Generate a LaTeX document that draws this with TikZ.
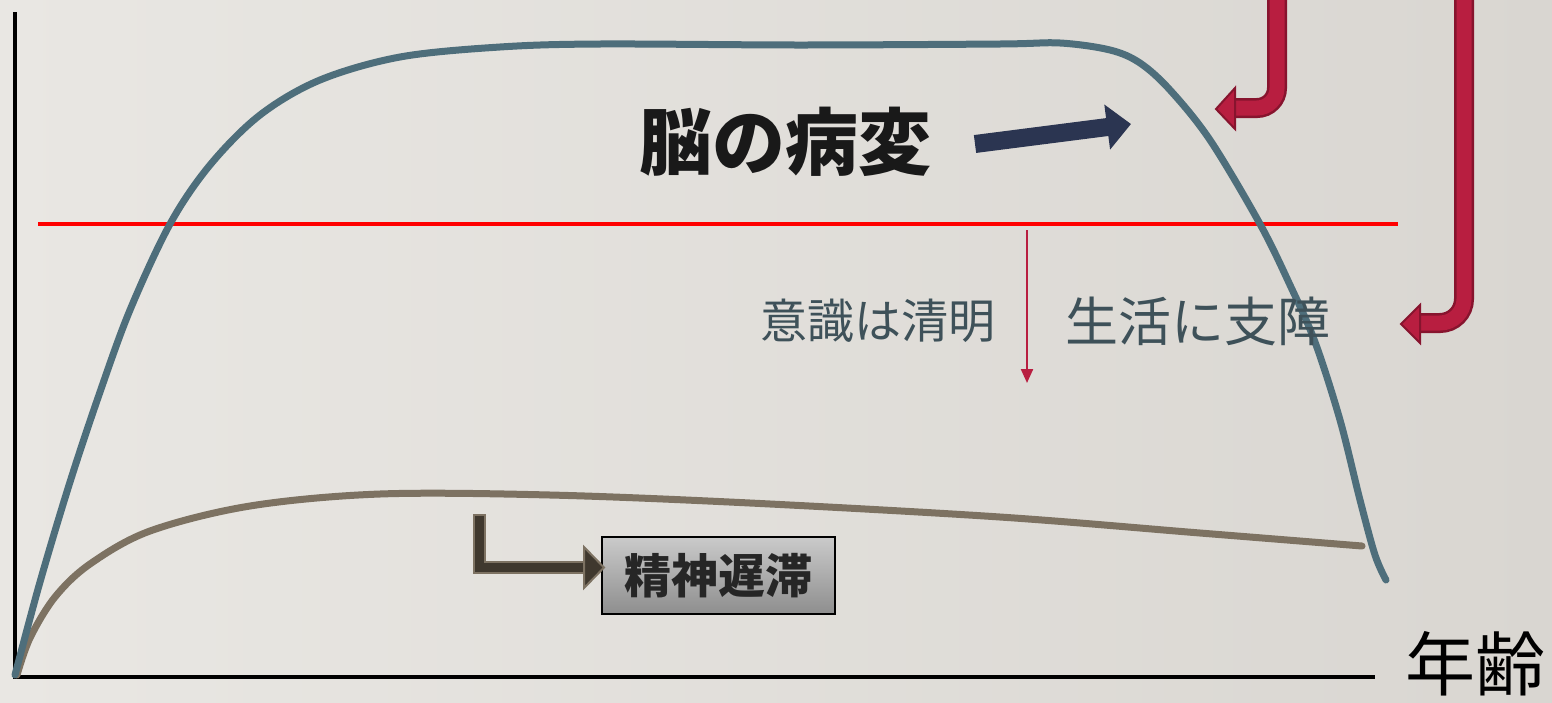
\documentclass[tikz,border=0pt]{standalone}
\usepackage{fontspec}
\newfontfamily\jp{Noto Sans CJK JP}
\usetikzlibrary{arrows.meta,calc}
\definecolor{bgL}{HTML}{E9E7E3}
\definecolor{bgR}{HTML}{D9D6D1}
\definecolor{curveblue}{HTML}{4E6E7B}
\definecolor{curvebrown}{HTML}{7D7262}
\definecolor{crimson}{HTML}{B81E40}
\definecolor{crimsondark}{HTML}{87142E}
\definecolor{navy}{HTML}{2B3551}
\definecolor{slate}{HTML}{3E5159}
\definecolor{lbrown}{HTML}{3F382E}
\definecolor{boxtop}{HTML}{CACACA}
\definecolor{boxbot}{HTML}{8E8E8E}
\tikzset{
  axis/.style={line width=4.5pt, black},
  curve/.style={line width=7pt, line cap=round, line join=round},
  thin label/.style={inner sep=0pt, text=slate, font=\jp},
  hookborder/.style={line width=20pt, crimsondark, rounded corners=20pt},
  hookfill/.style={line width=15pt, crimson, rounded corners=20pt},
  hookhead/.style={fill=crimson, draw=crimsondark, line width=2pt, line join=miter}
}
\begin{document}
\begin{tikzpicture}[x=1pt,y=-1pt]
\useasboundingbox (0,0) rectangle (1552,702);
\shade[left color=bgL, right color=bgR] (0,0) rectangle (1552,702);

% axes
\coordinate (origin) at (15,677);
\coordinate (ytop) at (15,12);
\coordinate (xend) at (1375,677);
\draw[axis] (ytop) -- (origin) -- (xend);

% red threshold line
\coordinate (rl) at (38,224);
\coordinate (rr) at (1398,224);
\draw[red, line width=3.5pt] (rl) -- (rr);

% brown curve
\draw[curve, curvebrown] plot[smooth, tension=0.55] coordinates {
 (17,675) (30,638) (55,597) (90,564) (150,531) (250,506) (380,494) (550,495)
 (750,503) (1000,517) (1200,533) (1362,546)};

% blue curve
\draw[curve, curveblue] plot[smooth, tension=0.55] coordinates {
 (15,675) (40,582) (70,482) (100,392) (130,310) (170,224) (210,165) (260,115)
 (320,80) (400,57) (500,47) (600,44) (800,45) (1000,44) (1060,43) (1110,50)
 (1140,63) (1170,90) (1210,140) (1260,224) (1290,285) (1315,342) (1340,420)
 (1360,500) (1375,555) (1386,580)};

% title
\node[inner sep=0pt, font=\jp\bfseries\fontsize{73}{80}\selectfont, text=black!90] (title) at (785,142) {脳の病変};

% navy arrow
\coordinate (na) at (975,144);
\coordinate (nb) at (1131,124);
\draw[navy, line width=18pt, -{Triangle[length=24pt,width=44pt]}] (na) -- (nb);

% small red arrow
\coordinate (sa) at (1027,230);
\coordinate (sb) at (1027,383);
\draw[crimson, line width=2.2pt, -{Triangle[length=14pt,width=12pt]}] (sa) -- (sb);

% labels
\node[thin label, font=\jp\fontsize{47}{52}\selectfont] (clear) at (878,321) {意識は清明};
\node[thin label, font=\jp\fontsize{53}{58}\selectfont] (life) at (1198,321) {生活に支障};

% hook arrow 1
\coordinate (h1a) at (1277,-12);
\coordinate (h1c) at (1277,108);
\coordinate (h1b) at (1236,108);
\draw[hookborder] (h1a) -- (h1c) -- (h1b);
\draw[hookfill] (h1a) -- (h1c) -- (h1b);
\draw[hookhead] (1235,88) -- (1216,109) -- (1235,129) -- cycle;

% hook arrow 2
\coordinate (h2a) at (1464,-12);
\coordinate (h2c) at (1464,323);
\coordinate (h2b) at (1421,323);
\draw[hookborder, rounded corners=24pt] (h2a) -- (h2c) -- (h2b);
\draw[hookfill, rounded corners=24pt] (h2a) -- (h2c) -- (h2b);
\draw[hookhead] (1420,305) -- (1401,324) -- (1420,343) -- cycle;

% box
\node[draw=black, line width=1.5pt, top color=boxtop, bottom color=boxbot,
      minimum width=233pt, minimum height=77pt, inner sep=0pt] (box) at (718.5,575.5) {};
\node[inner sep=0pt, font=\jp\bfseries\fontsize{47}{52}\selectfont, text=black!85] (boxtext) at (box.center) {精神遅滞};

% L arrow
\coordinate (la) at (479,514);
\coordinate (lc) at (479,567);
\coordinate (lb) at (586,567);
\draw[curvebrown, line width=13pt, line join=miter] (la) -- (lc) -- (lb);
\draw[lbrown, line width=9pt, line join=miter] ($(la)+(0,2)$) -- (lc) -- (lb);
\draw[fill=lbrown, draw=curvebrown, line width=2pt, line join=miter] (584,547) -- (604,567.5) -- (584,588) -- cycle;

% x axis label
\node[inner sep=0pt, font=\jp\fontsize{70}{76}\selectfont, text=black] (age) at (1475,664) {年齢};
\end{tikzpicture}
\end{document}
